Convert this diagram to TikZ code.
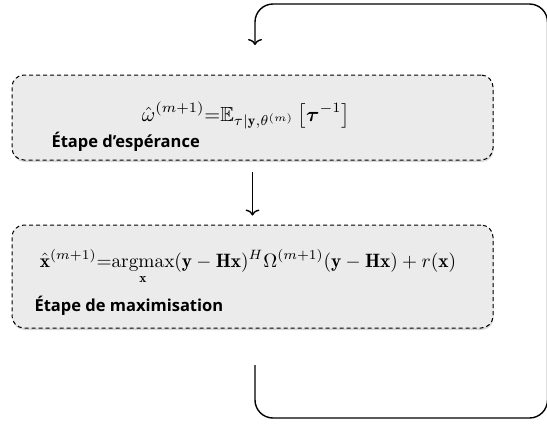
\RequirePackage{fix-cm}
\documentclass[tikz,border=0pt]{standalone}
\usepackage{amsmath,amssymb,bm,graphicx}
\usepackage{fontspec}
\newfontfamily\labelfont{Open Sans}
\usetikzlibrary{shadows,arrows.meta}
\definecolor{boxgray}{RGB}{235,235,235}
\newcommand{\eqfit}[2]{\resizebox{#1}{!}{$\displaystyle #2$}}
\tikzset{
	stepbox/.style={draw,dash pattern=on 4pt off 3pt,line width=1pt,rounded corners=12pt,fill=boxgray,minimum width=481pt,
		drop shadow={shadow xshift=0.6pt,shadow yshift=-2pt,opacity=0.3,fill=black!50}},
	steplabel/.style={anchor=base west,font=\labelfont\bfseries\fontsize{16.5}{20}\selectfont},
	formula/.style={anchor=base,inner sep=0pt},
	flow/.style={line width=1.4pt,-{To[length=6pt,width=14pt]}},
}
\begin{document}
\begin{tikzpicture}[x=1pt,y=-1pt]
		\useasboundingbox (0,0) rectangle (547,424);
		% E step
		\node (estep) at (252.5,117.5) [stepbox,minimum height=85pt] {};
		\node (eform) at (246,121) [formula] {\eqfit{208pt}{\hat{\omega}^{(m+1)}{=}\mathbb{E}_{\tau|\mathbf{y},\theta^{(m)}}\left[\bm{\tau}^{-1}\right]}};
		\node (elabel) at (48,147) [steplabel] {Étape d’espérance};
		% M step
		\node (mstep) at (252.5,276.5) [stepbox,minimum height=103pt] {};
		\node (mform) at (248,267) [formula] {\eqfit{416pt}{\hat{\mathbf{x}}^{(m+1)}{=}\!\operatorname*{argmax}_{\mathbf{x}}(\mathbf{y}-\mathbf{H}\mathbf{x})^{H}\Omega^{(m+1)}(\mathbf{y}-\mathbf{H}\mathbf{x})+r(\mathbf{x})}};
		\node (mlabel) at (31,311.5) [steplabel] {Étape de maximisation};
		\draw[flow,shorten <=11pt,shorten >=9pt] (estep.south)--(mstep.north);
		% loop back
		\coordinate (loopout) at (255,365);
		\coordinate (loopin) at (255,45);
		\draw[flow,rounded corners=18pt] (loopout)--(255,418)--(547.5,418)--(547.5,4)--(255,4)--(loopin);
	\end{tikzpicture}
\end{document}
